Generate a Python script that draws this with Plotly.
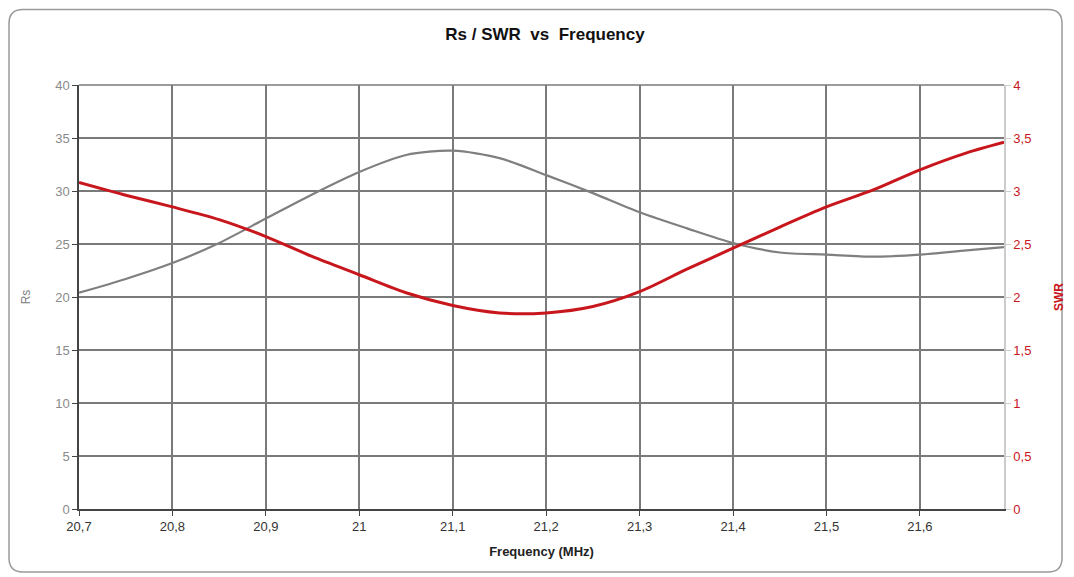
import plotly.graph_objects as go

freq = [20.70, 20.75, 20.80, 20.85, 20.90, 20.95, 21.00, 21.05, 21.10, 21.15,
        21.20, 21.25, 21.30, 21.35, 21.40, 21.45, 21.50, 21.55, 21.60, 21.65, 21.69]
rs = [20.4, 21.7, 23.2, 25.1, 27.4, 29.7, 31.8, 33.4, 33.8, 33.1,
      31.5, 29.8, 28.0, 26.5, 25.1, 24.2, 24.0, 23.8, 24.0, 24.4, 24.7]
swr = [3.08, 2.96, 2.85, 2.73, 2.57, 2.38, 2.21, 2.04, 1.92, 1.85,
       1.85, 1.91, 2.05, 2.26, 2.46, 2.66, 2.85, 3.01, 3.20, 3.36, 3.46]

x_ticks = [20.7, 20.8, 20.9, 21.0, 21.1, 21.2, 21.3, 21.4, 21.5, 21.6]
x_labels = ["20,7", "20,8", "20,9", "21", "21,1", "21,2", "21,3", "21,4", "21,5", "21,6"]
rs_ticks = [0, 5, 10, 15, 20, 25, 30, 35, 40]
swr_ticks = [0, 0.5, 1, 1.5, 2, 2.5, 3, 3.5, 4]
swr_labels = ["0", "0,5", "1", "1,5", "2", "2,5", "3", "3,5", "4"]

FONT = "Liberation Sans, Arial, sans-serif"
GRID = "#7a7a7a"

fig = go.Figure()
fig.add_trace(go.Scatter(x=freq, y=rs, mode="lines", name="Rs",
                         line=dict(color="#7f7f7f", width=2.2, shape="spline", smoothing=0.8)))
fig.add_trace(go.Scatter(x=freq, y=swr, mode="lines", name="SWR", yaxis="y2",
                         line=dict(color="#c8161d", width=3, shape="spline", smoothing=0.8)))

OFF = 8  # page body margin
W, H = 1074, 577
L, R, T, B = 79 - OFF, 1004 - OFF, 85 - OFF, 509 - OFF
pw, ph = R - L, B - T

def px(x):
    return (x - OFF - L) / pw

def py(y):
    return (B - (y - OFF)) / ph

# rounded outer border (page pixel coordinates)
x0, x1, y0, y1, r = 9, 1062, 9.5, 572, 14
path = (f"M {px(x0 + r)},{py(y0)} L {px(x1 - r)},{py(y0)} "
        f"Q {px(x1)},{py(y0)} {px(x1)},{py(y0 + r)} "
        f"L {px(x1)},{py(y1 - r)} Q {px(x1)},{py(y1)} {px(x1 - r)},{py(y1)} "
        f"L {px(x0 + r)},{py(y1)} Q {px(x0)},{py(y1)} {px(x0)},{py(y1 - r)} "
        f"L {px(x0)},{py(y0 + r)} Q {px(x0)},{py(y0)} {px(x0 + r)},{py(y0)} Z")

fig.update_layout(
    width=W, height=H,
    margin=dict(l=L, r=W - R, t=T, b=H - B),
    paper_bgcolor="white", plot_bgcolor="white",
    showlegend=False,
    font=dict(family=FONT, size=13, color="#808080"),
    title=dict(text="<b>Rs / SWR  vs  Frequency</b>", x=0.5, xanchor="center",
               y=1 - (34 - OFF) / H, yanchor="middle",
               font=dict(family=FONT, size=17, color="#111111")),
    xaxis=dict(range=[20.7, 21.69], tickvals=x_ticks, ticktext=x_labels,
               showgrid=True, gridcolor=GRID, gridwidth=1.5,
               showline=True, linecolor="#444444", linewidth=1.5,
               ticks="outside", ticklen=5, tickcolor="#444444",
               tickfont=dict(family=FONT, size=13, color="#333333"),
               title=dict(text="<b>Frequency (MHz)</b>", standoff=14,
                          font=dict(family=FONT, size=13, color="#222222")),
               zeroline=False, fixedrange=True),
    yaxis=dict(range=[0, 40], tickvals=rs_ticks,
               showgrid=True, gridcolor=GRID, gridwidth=1.5,
               showline=True, linecolor="#444444", linewidth=1.5,
               ticks="outside", ticklen=5, tickcolor="#444444",
               tickfont=dict(family=FONT, size=13, color="#8a8a8a"),
               title=dict(text="Rs", standoff=22,
                          font=dict(family=FONT, size=12, color="#808080")),
               zeroline=False),
    yaxis2=dict(range=[0, 4], tickvals=swr_ticks, ticktext=swr_labels,
                overlaying="y", side="right", showgrid=False,
                showline=True, linecolor="#cccccc", linewidth=1.5,
                ticks="outside", ticklen=5, tickcolor="#cccccc",
                tickfont=dict(family=FONT, size=13, color="#c8161d"),
                title=dict(text="<b>SWR</b>", standoff=24,
                           font=dict(family=FONT, size=12, color="#c8161d")),
                zeroline=False),
    shapes=[dict(type="path", path=path, xref="paper", yref="paper",
                 line=dict(color="#9a9a9a", width=1.5), fillcolor="rgba(0,0,0,0)",
                 layer="below"),
            dict(type="line", xref="paper", yref="paper", x0=0, x1=1, y0=1, y1=1,
                 line=dict(color=GRID, width=1.5))],
)

fig.write_html("out.html")
